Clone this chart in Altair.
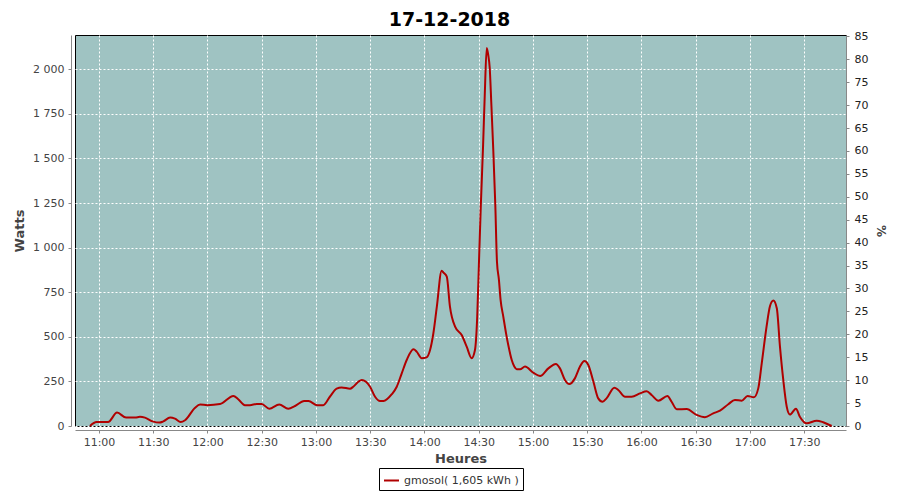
import altair as alt
import pandas as pd

DAY = "2018-12-17T"
chart_title = "17-12-2018"
series_name = "gmosol( 1,605 kWh )"

times = [
    "10:55:00", "10:58:40", "11:05:00", "11:10:00", "11:15:00", "11:20:00", "11:22:40", "11:25:25",
    "11:29:40", "11:33:25", "11:35:35", "11:39:20", "11:42:00", "11:45:10", "11:47:35", "11:53:00",
    "11:55:55", "11:59:55", "12:06:55", "12:14:20", "12:17:00", "12:20:40", "12:23:30", "12:27:10",
    "12:30:00", "12:34:10", "12:39:40", "12:44:40", "12:48:25", "12:53:25", "12:55:50", "13:00:40",
    "13:04:00", "13:07:40", "13:11:25", "13:14:10", "13:18:50", "13:20:35", "13:23:25", "13:25:20",
    "13:29:55", "13:32:40", "13:35:25", "13:37:20", "13:41:55", "13:44:40", "13:47:25", "13:50:10",
    "13:53:55", "13:55:40", "13:58:30", "14:01:10", "14:03:05", "14:04:55", "14:06:50", "14:09:30",
    "14:10:30", "14:12:20", "14:14:05", "14:16:55", "14:20:35", "14:23:20", "14:26:05", "14:27:55",
    "14:29:10", "14:30:05", "14:31:10", "14:32:25", "14:33:20", "14:34:25", "14:35:15", "14:36:05",
    "14:36:55", "14:38:00", "14:39:10", "14:40:05", "14:41:10", "14:42:05", "14:43:35", "14:45:05",
    "14:46:20", "14:48:15", "14:49:40", "14:51:00", "14:52:50", "14:55:35", "15:00:10", "15:03:55",
    "15:08:30", "15:12:40", "15:14:55", "15:17:40", "15:20:05", "15:23:10", "15:26:00", "15:28:25",
    "15:30:35", "15:33:25", "15:36:05", "15:38:30", "15:40:40", "15:45:00", "15:47:10", "15:50:55",
    "15:54:35", "15:59:10", "16:02:55", "16:05:35", "16:09:20", "16:14:20", "16:16:40", "16:19:30",
    "16:25:00", "16:30:30", "16:35:05", "16:39:40", "16:43:25", "16:48:00", "16:51:40", "16:55:25",
    "16:58:40", "17:02:10", "17:04:35", "17:06:30", "17:09:10", "17:11:05", "17:12:55", "17:14:50",
    "17:16:35", "17:18:25", "17:20:20", "17:22:05", "17:25:25", "17:27:35", "17:31:20", "17:36:55",
    "17:40:30", "17:45:10",
]
watts = [
    0, 22, 22, 75, 47, 47, 52, 47,
    26, 19, 26, 47, 41, 22, 32, 101,
    120, 117, 123, 168, 150, 117, 117, 123,
    123, 97, 120, 97, 112, 140, 140, 117,
    117, 164, 209, 216, 209, 220, 248, 258,
    220, 164, 140, 140, 178, 220, 295, 370,
    430, 417, 380, 385, 426, 520, 669, 871,
    860, 837, 669, 557, 510, 445, 380, 426,
    613, 903, 1239, 1576, 1856, 2119, 2080, 2007,
    1818, 1559, 1239, 921, 819, 707, 613, 521,
    454, 370, 333, 318, 318, 333, 299, 280,
    323, 348, 323, 258, 235, 267, 333, 364,
    342, 248, 155, 136, 155, 215, 202, 164,
    164, 183, 195, 174, 142, 168, 136, 94,
    95, 62, 49, 71, 86, 122, 146, 142,
    168, 161, 211, 351, 557, 673, 703, 660,
    445, 258, 108, 64, 97, 52, 15, 30,
    21, 0,
]

x_tick_hours = [(11, 0), (11, 30), (12, 0), (12, 30), (13, 0), (13, 30), (14, 0),
                (14, 30), (15, 0), (15, 30), (16, 0), (16, 30), (17, 0), (17, 30)]
left_ticks = [0, 250, 500, 750, 1000, 1250, 1500, 1750, 2000]
right_ticks = list(range(0, 90, 5))
watts_max = 2192
pct_max = 85.3
full_scale_watts = 2570

df = pd.DataFrame({
    "t": [DAY + s for s in times],
    "w": watts,
    "serie": [series_name] * len(times),
})

FONT = "DejaVu Sans"


def dt(h, m, s=0):
    return alt.DateTime(year=2018, month=12, date=17, hours=h, minutes=m, seconds=s)


x_axis = alt.Axis(
    title="Heures", format="%H:%M",
    values=[dt(h, m) for h, m in x_tick_hours],
    offset=4, tickSize=3, labelPadding=3,
    labelFont=FONT, labelFontSize=11, labelColor="#444444",
    titleFont=FONT, titleFontSize=13, titleFontWeight="bold", titleColor="#444444",
    titlePadding=5,
    domainColor="#888888", tickColor="#888888",
    grid=True, gridColor="white", gridDash=[2, 2], gridWidth=1, gridOpacity=1,
)
x_enc = alt.X("t:T", scale=alt.Scale(domain=[dt(10, 46, 44), dt(17, 53, 6)]), axis=x_axis)

line = alt.Chart(df).mark_line(interpolate="monotone", strokeWidth=2).encode(
    x=x_enc,
    y=alt.Y(
        "w:Q",
        scale=alt.Scale(domain=[0, watts_max], nice=False, zero=True),
        axis=alt.Axis(
            title="Watts", values=left_ticks,
            labelExpr="replace(format(datum.value, ','), ',', ' ')",
            offset=4, tickSize=3, labelPadding=4,
            labelFont=FONT, labelFontSize=11, labelColor="#444444",
            titleFont=FONT, titleFontSize=13, titleFontWeight="bold", titleColor="#444444",
            titlePadding=6,
            domainColor="#888888", tickColor="#888888",
            grid=True, gridColor="white", gridDash=[2, 2], gridWidth=1, gridOpacity=1,
        ),
    ),
    color=alt.Color(
        "serie:N",
        scale=alt.Scale(range=["#b00000"]),
        legend=alt.Legend(
            title=None, orient="none", legendX=304, legendY=433, direction="horizontal",
            symbolType="stroke", symbolStrokeWidth=2, symbolSize=225,
            labelFont=FONT, labelFontSize=11, labelColor="#333333",
            strokeColor="black", fillColor="white", padding=4, cornerRadius=0,
        ),
    ),
)

pct = alt.Chart(df).transform_calculate(
    p=f"datum.w / {full_scale_watts} * 100"
).mark_line(opacity=0).encode(
    x=x_enc,
    y=alt.Y(
        "p:Q",
        scale=alt.Scale(domain=[0, pct_max], nice=False, zero=True),
        axis=alt.Axis(
            title="%", orient="right", values=right_ticks, grid=False,
            tickSize=3, labelPadding=5,
            labelFont=FONT, labelFontSize=11, labelColor="#222222",
            titleFont=FONT, titleFontSize=12, titleFontWeight="bold", titleColor="#444444",
            titlePadding=6,
            domainColor="#888888", tickColor="#888888",
        ),
    ),
)

chart = alt.layer(line, pct).resolve_scale(y="independent").properties(
    width=771, height=391,
    background="white",
    autosize=alt.AutoSizeParams(type="none"),
    padding={"left": 67, "top": 27, "right": 46, "bottom": 66},
    title=alt.TitleParams(
        chart_title, font=FONT, fontSize=19, fontWeight="bold", color="black",
        anchor="middle", offset=0, dx=-11,
    ),
).configure_view(
    fill="#9fc3c2", stroke="black", strokeWidth=1,
)

chart.save("out.html", embed_options={"renderer": "svg", "actions": False})
